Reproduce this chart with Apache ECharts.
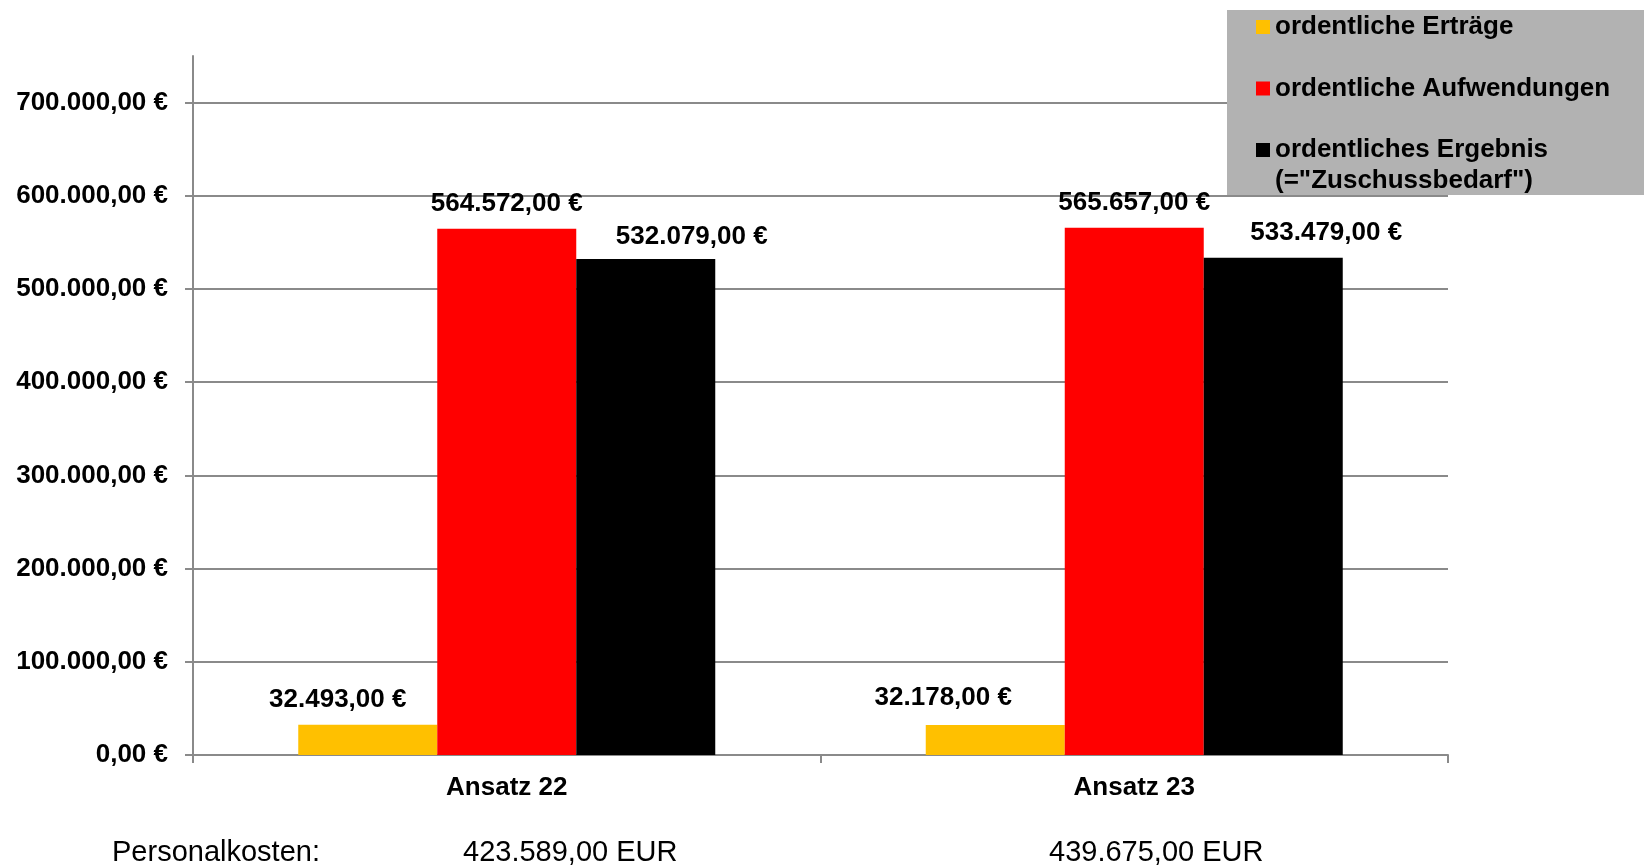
<!DOCTYPE html>
<html>
<head>
<meta charset="utf-8">
<script src="https://cdn.jsdelivr.net/npm/echarts@6/dist/echarts.min.js"></script>
<style>
html,body{margin:0;padding:0;background:#fff;}
#c{width:1644px;height:866px;}
</style>
</head>
<body>
<div id="c"></div>
<script>
const categories = ['Ansatz 22', 'Ansatz 23'];
const seriesNames = ['ordentliche Erträge', 'ordentliche Aufwendungen', 'ordentliches Ergebnis'];
const ertraege = [32493, 32178];
const aufwendungen = [564572, 565657];
const ergebnis = [532079, 533479];
const yTicks = [0, 100000, 200000, 300000, 400000, 500000, 600000, 700000];
const personalLabel = 'Personalkosten:';
const personalkosten = [423589, 439675];
const legendSecondLine = '(="Zuschussbedarf")';

function de(v) {
  const parts = v.toFixed(2).split('.');
  const int = parts[0].replace(/\B(?=(\d{3})+(?!\d))/g, '.');
  return int + ',' + parts[1];
}

const FONT = 'Liberation Sans, Arial, Helvetica, sans-serif';
const chart = echarts.init(document.getElementById('c'));

// label nudges per bar (styling only, as in the original manually placed labels)
const labelNudges = [
  [[-30, 0], [-52, -2]],
  [[0, 0], [0, 0]],
  [[46, 3], [53, 0]]
];

function barSeries(idx, data, color) {
  return {
    name: seriesNames[idx],
    type: 'bar',
    data: data.map((v, i) => ({ value: v, label: { offset: labelNudges[idx][i] } })),
    barWidth: 139,
    barGap: '0%',
    itemStyle: { color: color },
    label: {
      show: true,
      position: 'top',
      distance: 12,
      formatter: p => de(p.value) + ' €',
      color: '#000',
      fontFamily: FONT,
      fontWeight: 'bold',
      fontSize: 26
    }
  };
}

chart.setOption({
  animation: false,
  backgroundColor: '#fff',
  grid: { left: 193, right: 196, top: 56, bottom: 111, containLabel: false },
  xAxis: {
    type: 'category',
    data: categories,
    axisLine: { lineStyle: { color: '#8a8a8a', width: 2 } },
    axisTick: { show: true, length: 8, lineStyle: { color: '#8a8a8a', width: 2 } },
    axisLabel: { margin: 20, color: '#000', fontFamily: FONT, fontWeight: 'bold', fontSize: 26 }
  },
  yAxis: {
    type: 'value',
    min: 0,
    max: 750000,
    interval: 100000,
    axisLine: { show: true, lineStyle: { color: '#8a8a8a', width: 2 } },
    axisTick: { show: true, length: 8, customValues: yTicks, lineStyle: { color: '#8a8a8a', width: 2 } },
    axisLabel: {
      margin: 25,
      customValues: yTicks,
      padding: [4, 0, 0, 0],
      formatter: v => de(v) + ' €',
      color: '#000', fontFamily: FONT, fontWeight: 'bold', fontSize: 26
    },
    splitLine: { show: true, lineStyle: { color: ['#8a8a8a','#8a8a8a','#8a8a8a','#8a8a8a','#8a8a8a','#8a8a8a','#8a8a8a','#8a8a8a','rgba(0,0,0,0)'], width: 2 } }
  },
  legend: {
    left: 1227,
    top: 10,
    orient: 'vertical',
    backgroundColor: '#b2b2b2',
    padding: [2, 80, 30, 29],
    itemGap: 31.5,
    itemWidth: 14,
    itemHeight: 14,
    icon: 'rect',
    textStyle: { color: '#000', fontFamily: FONT, fontWeight: 'bold', fontSize: 26, lineHeight: 30 },
    data: seriesNames
  },
  graphic: [
    { type: 'text', left: 1275, top: 168, z: 100,
      style: { text: legendSecondLine, fill: '#000', font: 'bold 26px ' + FONT } },
    { type: 'text', left: 112, top: 838,
      style: { text: personalLabel, fill: '#000', font: '29px ' + FONT } },
    { type: 'text', left: 463, top: 838,
      style: { text: de(personalkosten[0]) + ' EUR', fill: '#000', font: '29px ' + FONT } },
    { type: 'text', left: 1049, top: 838,
      style: { text: de(personalkosten[1]) + ' EUR', fill: '#000', font: '29px ' + FONT } }
  ],
  series: [
    barSeries(0, ertraege, '#FFC000'),
    barSeries(1, aufwendungen, '#FF0000'),
    barSeries(2, ergebnis, '#000000')
  ]
});
</script>
</body>
</html>
